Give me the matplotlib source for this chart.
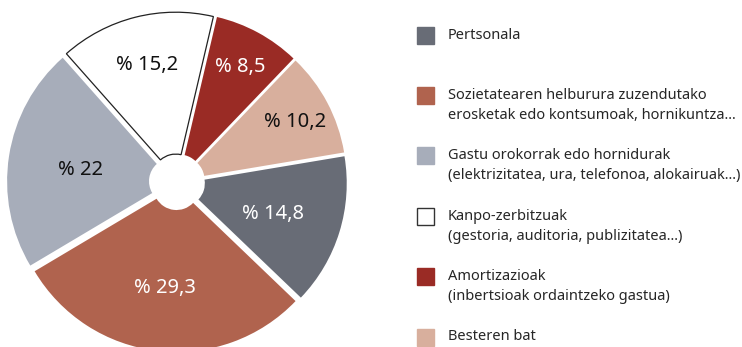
import matplotlib.pyplot as plt
from matplotlib.patches import Rectangle
import numpy as np

# Expense shares (%), clockwise from the right
values = [14.8, 29.3, 22.0, 15.2, 8.5, 10.2]
value_labels = ["% 14,8", "% 29,3", "% 22", "% 15,2", "% 8,5", "% 10,2"]
legend_lines = [
    ["Pertsonala"],
    ["Sozietatearen helburura zuzendutako", "erosketak edo kontsumoak, hornikuntza..."],
    ["Gastu orokorrak edo hornidurak", "(elektrizitatea, ura, telefonoa, alokairuak...)"],
    ["Kanpo-zerbitzuak", "(gestoria, auditoria, publizitatea...)"],
    ["Amortizazioak", "(inbertsioak ordaintzeko gastua)"],
    ["Besteren bat"],
]

colors = ["#686c76", "#b0634e", "#a7adba", "#ffffff", "#9a2b25", "#d8af9d"]
text_colors = ["white", "white", "#111111", "#111111", "white", "#111111"]
label_radius = [0.61, 0.63, 0.59, 0.75, 0.81, 0.81]

plt.rcParams['font.family'] = ['Noto Sans', 'DejaVu Sans']

W, H = 742, 347
fig = plt.figure(figsize=(W / 100, H / 100), dpi=100)

# Pie axes: 165 px per data unit, centre at pixel (177, 182)
scale = 165
half = 1.1
size = 2 * half * scale
cx, cy = 177, 182
ax = fig.add_axes([(cx - size / 2) / W, (H - cy - size / 2) / H, size / W, size / H])

wedges, _ = ax.pie(values, colors=colors, startangle=9.5, counterclock=False,
                   explode=[0.03] * len(values), radius=1.0,
                   wedgeprops=dict(width=0.86, linewidth=0))
# pie() resets the limits, so set them afterwards
ax.set_xlim(-half, half)
ax.set_ylim(-half, half)
ax.set_aspect('equal')
ax.axis('off')

# the white slice gets a thin dark outline
wedges[3].set_edgecolor('#222222')
wedges[3].set_linewidth(0.9)

for w, txt, tc, r in zip(wedges, value_labels, text_colors, label_radius):
    mid = np.deg2rad((w.theta1 + w.theta2) / 2)
    ax.text(r * np.cos(mid), r * np.sin(mid), txt, color=tc, fontsize=14.5,
            ha='center', va='center_baseline')

# Legend in pixel coordinates on the right
lax = fig.add_axes([0, 0, 1, 1])
lax.set_xlim(0, W)
lax.set_ylim(H, 0)
lax.axis('off')

sq = 17
for k in range(len(legend_lines)):
    y = 35 + k * 60.4
    edge = '#333333' if colors[k] == '#ffffff' else colors[k]
    lax.add_patch(Rectangle((417, y - sq / 2), sq, sq, facecolor=colors[k],
                            edgecolor=edge, linewidth=1.0))
    for j, line in enumerate(legend_lines[k]):
        lax.text(448, y + j * 20, line, fontsize=10.5, color='#262626',
                 ha='left', va='center')

fig.savefig('out.png', dpi=100)
